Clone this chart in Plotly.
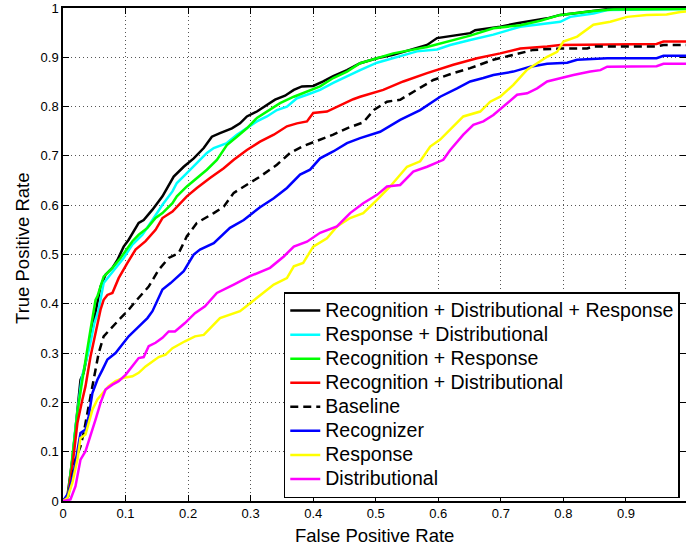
import plotly.graph_objects as go

# ROC curves: lists of (false positive rate, true positive rate)
rec_dist_resp = [(0, 0), (.007, .01), (.015, .084), (.023, .192), (.028, .246), (.033, .260), (.041, .314),
                 (.049, .368), (.055, .408), (.060, .435), (.068, .459), (.079, .473), (.087, .489), (.097, .516),
                 (.105, .530), (.113, .547), (.121, .564), (.129, .570), (.143, .591), (.159, .618), (.177, .658),
                 (.193, .678), (.209, .695), (.225, .716), (.238, .739), (.251, .746), (.270, .756), (.283, .766),
                 (.294, .780), (.310, .790), (.326, .803), (.339, .814), (.355, .822), (.369, .834), (.382, .841),
                 (.400, .842), (.416, .851), (.432, .862), (.454, .874), (.475, .888), (.502, .898), (.528, .905),
                 (.582, .925), (.598, .939), (.651, .949), (.659, .955), (.699, .962), (.726, .969), (.774, .979),
                 (.795, .986), (.822, .990), (.848, .994), (.870, .997), (.885, 1.0), (1.0, 1.0)]

resp_dist = [(0, 0), (.009, .01), (.020, .15), (.030, .25), (.042, .31), (.050, .36), (.057, .388), (.065, .442),
             (.073, .455), (.084, .473), (.097, .493), (.111, .520), (.127, .540), (.143, .570), (.159, .601),
             (.175, .628), (.182, .645), (.198, .665), (.214, .685), (.230, .706), (.241, .716), (.262, .726),
             (.278, .743), (.294, .756), (.310, .770), (.326, .780), (.342, .793), (.358, .800), (.374, .817),
             (.390, .824), (.411, .834), (.432, .848), (.448, .858), (.475, .874), (.502, .889), (.528, .898),
             (.566, .912), (.598, .916), (.619, .925), (.651, .935), (.688, .946), (.731, .962), (.795, .972),
             (.811, .982), (.848, .989), (.870, .996), (1.0, .998)]

rec_resp = [(0, 0), (.008, .01), (.015, .09), (.023, .18), (.031, .246), (.036, .287), (.044, .348), (.052, .408),
            (.055, .415), (.065, .455), (.079, .473), (.092, .493), (.103, .513), (.111, .527), (.121, .540),
            (.135, .554), (.148, .574), (.159, .584), (.175, .604), (.182, .618), (.198, .638), (.214, .655),
            (.230, .672), (.246, .692), (.262, .722), (.278, .739), (.294, .756), (.310, .777), (.326, .790),
            (.347, .807), (.369, .820), (.390, .830), (.411, .841), (.432, .858), (.454, .871), (.475, .888),
            (.528, .908), (.582, .921), (.603, .928), (.651, .944), (.688, .959), (.731, .965), (.763, .974),
            (.795, .986), (.848, .994), (.880, .997), (1.0, .998)]

rec_dist = [(0, 0), (.008, .01), (.015, .07), (.023, .158), (.031, .206), (.036, .233), (.044, .293), (.052, .341),
            (.060, .388), (.065, .408), (.071, .418), (.079, .422), (.089, .452), (.103, .483), (.116, .510),
            (.132, .527), (.148, .550), (.159, .574), (.175, .587), (.198, .618), (.214, .635), (.235, .655),
            (.257, .675), (.273, .692), (.294, .712), (.315, .729), (.337, .743), (.358, .760), (.374, .766),
            (.390, .770), (.400, .787), (.422, .790), (.443, .803), (.464, .815), (.475, .820), (.512, .834),
            (.544, .851), (.582, .868), (.624, .885), (.662, .898), (.699, .908), (.731, .918), (.774, .922),
            (.795, .925), (.949, .927), (.960, .932), (1.0, .932)]

baseline = [(0, 0), (.006, .005), (.012, .03), (.020, .084), (.028, .111), (.033, .138), (.041, .192), (.049, .246),
            (.057, .300), (.065, .334), (.079, .354), (.092, .371), (.105, .388), (.116, .405), (.137, .435),
            (.153, .469), (.169, .493), (.185, .503), (.198, .537), (.214, .564), (.241, .584), (.257, .597),
            (.273, .625), (.294, .641), (.315, .658), (.342, .682), (.363, .706), (.384, .720), (.411, .733),
            (.432, .743), (.454, .756), (.480, .768), (.497, .793), (.518, .810), (.539, .814), (.560, .830),
            (.592, .854), (.624, .868), (.651, .878), (.688, .895), (.720, .905), (.752, .915), (.795, .918),
            (.838, .918), (.848, .922), (.949, .922), (.960, .925), (1.0, .925)]

recognizer = [(0, 0), (.009, .017), (.017, .057), (.023, .104), (.028, .138), (.036, .145), (.041, .172),
              (.047, .219), (.055, .246), (.063, .266), (.071, .287), (.084, .300), (.095, .317), (.105, .334),
              (.119, .351), (.135, .371), (.143, .385), (.151, .408), (.159, .429), (.172, .442), (.193, .466),
              (.209, .500), (.219, .510), (.241, .523), (.267, .554), (.289, .570), (.315, .596), (.337, .614),
              (.358, .635), (.379, .662), (.395, .672), (.411, .695), (.432, .709), (.454, .726), (.475, .736),
              (.507, .749), (.539, .773), (.571, .793), (.603, .820), (.630, .837), (.651, .851), (.672, .858),
              (.688, .864), (.720, .871), (.747, .881), (.774, .887), (.806, .889), (.822, .895), (.870, .898),
              (.949, .898), (.960, .903), (1.0, .903)]

response = [(0, 0), (.007, .006), (.015, .037), (.023, .084), (.028, .128), (.036, .135), (.041, .158),
            (.047, .185), (.055, .206), (.063, .219), (.073, .233), (.084, .243), (.097, .250), (.111, .253),
            (.121, .260), (.132, .273), (.143, .283), (.153, .292), (.164, .297), (.175, .310), (.195, .324),
            (.211, .334), (.225, .337), (.251, .371), (.283, .385), (.315, .418), (.337, .439), (.358, .452),
            (.369, .476), (.384, .483), (.400, .516), (.422, .533), (.438, .557), (.459, .574), (.480, .584),
            (.502, .611), (.523, .638), (.550, .678), (.571, .689), (.587, .719), (.603, .733), (.640, .780),
            (.667, .790), (.683, .810), (.699, .820), (.720, .844), (.742, .875), (.758, .888), (.774, .901),
            (.790, .911), (.800, .932), (.822, .942), (.848, .966), (.875, .972), (.902, .982), (.933, .986),
            (.965, .987), (.987, .992), (1.0, .993)]

distributional = [(0, 0), (.012, .003), (.020, .03), (.028, .084), (.036, .101), (.044, .131), (.052, .165),
                  (.060, .199), (.068, .226), (.079, .236), (.089, .243), (.100, .256), (.111, .273), (.121, .290),
                  (.129, .292), (.137, .314), (.148, .321), (.159, .331), (.169, .344), (.179, .344), (.195, .361),
                  (.211, .381), (.227, .395), (.246, .422), (.273, .439), (.299, .456), (.331, .473), (.353, .496),
                  (.369, .516), (.390, .526), (.411, .544), (.438, .557), (.459, .584), (.480, .604), (.502, .621),
                  (.518, .638), (.539, .641), (.560, .668), (.582, .678), (.608, .692), (.619, .712), (.640, .743),
                  (.656, .763), (.672, .770), (.688, .783), (.710, .807), (.726, .824), (.742, .827), (.758, .837),
                  (.774, .851), (.795, .858), (.816, .864), (.843, .871), (.859, .874), (.870, .881), (.949, .882),
                  (.960, .887), (1.0, .887)]

series_names = ["Recognition + Distributional + Response", "Response + Distributional",
                "Recognition + Response", "Recognition + Distributional", "Baseline",
                "Recognizer", "Response", "Distributional"]
series_data = [rec_dist_resp, resp_dist, rec_resp, rec_dist, baseline, recognizer, response, distributional]
series_colors = ["#000000", "#00ffff", "#00ff00", "#ff0000", "#000000", "#0000ff", "#ffff00", "#ff00ff"]
series_dash = ["solid", "solid", "solid", "solid", "8px,5px", "solid", "solid", "solid"]

x_ticks = [0, 0.1, 0.2, 0.3, 0.4, 0.5, 0.6, 0.7, 0.8, 0.9]
x_ticktext = ["0", "0.1", "0.2", "0.3", "0.4", "0.5", "0.6", "0.7", "0.8", "0.9"]
y_ticks = [0, 0.1, 0.2, 0.3, 0.4, 0.5, 0.6, 0.7, 0.8, 0.9, 1.0]
y_ticktext = ["0", "0.1", "0.2", "0.3", "0.4", "0.5", "0.6", "0.7", "0.8", "0.9", "1"]

FONT = "Liberation Sans, Arial, Helvetica, sans-serif"
LEGEND_TEXT_PX = 19.5   # rendered legend label size
LEGEND_ROW_FONT = 16.2  # font size that sets the legend row spacing

fig = go.Figure()
for name, pts, col, dash in zip(series_names, series_data, series_colors, series_dash):
    fig.add_trace(go.Scatter(
        x=[p[0] for p in pts], y=[p[1] for p in pts], mode="lines",
        name=f'<span style="font-size:{LEGEND_TEXT_PX}px">{name}</span>',
        line=dict(color=col, width=2.5, dash=dash)))

# dummy trace for right-side tick marks
fig.add_trace(go.Scatter(x=[None], y=[None], yaxis="y2", showlegend=False, hoverinfo="skip"))

axis_common = dict(
    ticks="inside", ticklen=6, tickcolor="black", tickwidth=1,
    showline=True, linecolor="black", linewidth=1.5,
    showgrid=True, gridcolor="#555555", griddash="1px,3px", gridwidth=1,
    zeroline=False, tickfont=dict(family=FONT, size=13, color="black"),
)

fig.update_layout(
    width=686, height=546,
    margin=dict(l=63, r=0, t=8, b=45),
    paper_bgcolor="white", plot_bgcolor="white",
    font=dict(family=FONT, color="black"),
    xaxis=dict(range=[0, 0.996], tickvals=x_ticks, ticktext=x_ticktext, mirror="ticks", **axis_common),
    yaxis=dict(range=[0, 1], tickvals=y_ticks, ticktext=y_ticktext, mirror=False, **axis_common),
    yaxis2=dict(range=[0, 1], overlaying="y", side="right", tickvals=y_ticks, ticks="inside", ticklen=6,
                tickcolor="black", showticklabels=False, showline=False, showgrid=False, zeroline=False),
    legend=dict(x=0.990, y=0.006, xanchor="right", yanchor="bottom",
                bordercolor="black", borderwidth=1.5, bgcolor="white",
                font=dict(family=FONT, size=LEGEND_ROW_FONT, color="black"), tracegroupgap=0),
    annotations=[
        dict(text="False Positive Rate", xref="paper", yref="paper", x=0.5, y=-0.069,
             xanchor="center", yanchor="middle", showarrow=False,
             font=dict(family=FONT, size=18.5, color="black")),
        dict(text="True Positive Rate", xref="paper", yref="paper", x=-0.066, y=0.513,
             xanchor="center", yanchor="middle", textangle=-90, showarrow=False,
             font=dict(family=FONT, size=18.5, color="black")),
    ],
)

fig.write_html("out.html")
